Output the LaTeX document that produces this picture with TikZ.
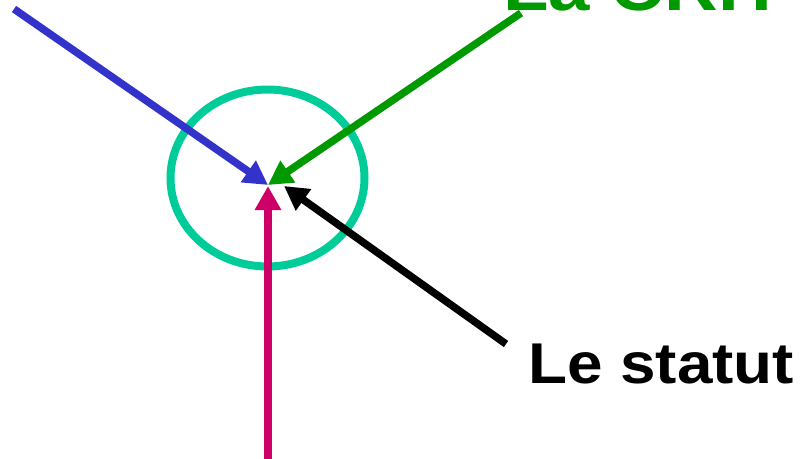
\documentclass[tikz,border=0pt]{standalone}
\usepackage{fontspec}
\setmainfont{Liberation Sans}
\usetikzlibrary{arrows.meta}
\definecolor{cblue}{RGB}{51,51,204}
\definecolor{cgreen}{RGB}{0,153,0}
\definecolor{cmag}{RGB}{204,0,102}
\definecolor{cteal}{RGB}{0,204,153}
\begin{document}
\begin{tikzpicture}[x=1pt,y=-1pt,
  arr/.style={line width=7.5pt,-{Triangle[length=24pt,width=25pt]}},
  lbl/.style={inner sep=0pt,anchor=base west,font=\bfseries,xscale=1.11}]
\useasboundingbox (0,0) rectangle (800,458);
\draw[cteal,line width=8pt] (267.5,178) ellipse [x radius=97,y radius=88.5];
\coordinate (bs) at (14,9);
\coordinate (bt) at (268,185);
\coordinate (gs) at (521,13);
\coordinate (gt) at (268,185);
\coordinate (ms) at (268,470);
\coordinate (mt) at (268,186);
\coordinate (ks) at (506,344);
\coordinate (kt) at (284,186);
\draw[arr,cblue] (bs) -- (bt);
\draw[arr,cgreen] (gs) -- (gt);
\draw[arr,cmag] (ms) -- (mt);
\draw[arr,black] (ks) -- (kt);
\node[lbl,text=cgreen,font=\bfseries\fontsize{67}{70}\selectfont] (crh) at (503,10) {La CRH};
\node[lbl,text=black,font=\bfseries\fontsize{57.5}{60}\selectfont] (statut) at (528,383) {Le statut};
\end{tikzpicture}
\end{document}
